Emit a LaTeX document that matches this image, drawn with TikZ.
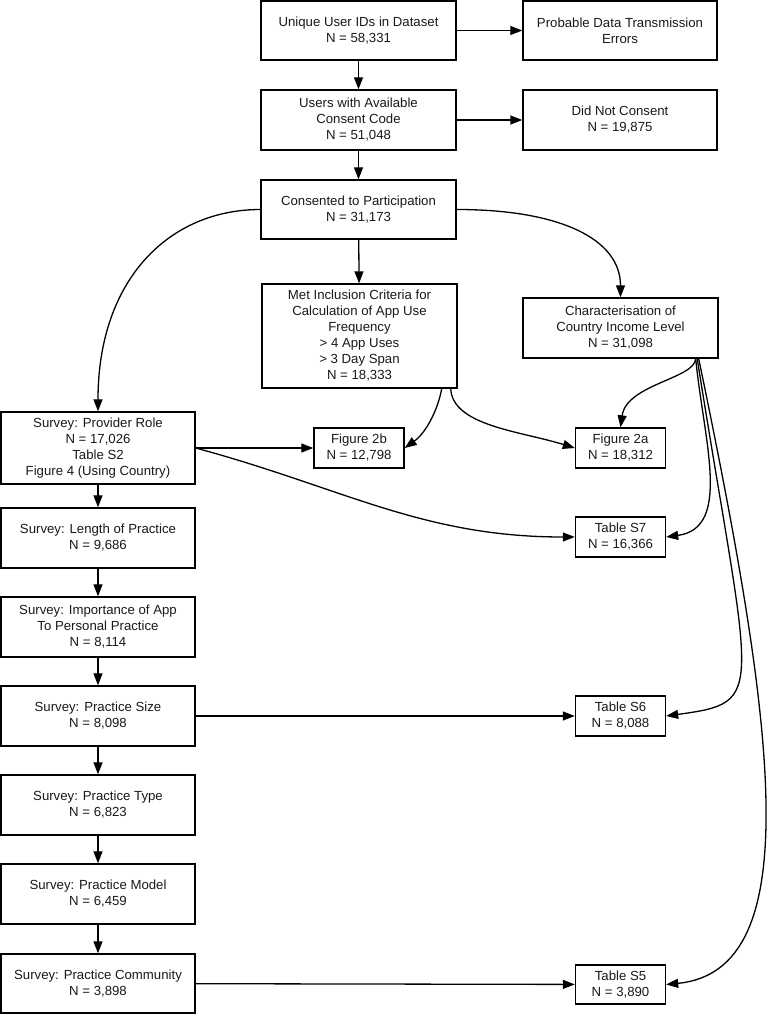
\documentclass[tikz,border=0pt]{standalone}
\usepackage{fontspec}
\setmainfont{Liberation Sans}
\usetikzlibrary{arrows.meta,calc}
\begin{document}
\begin{tikzpicture}[x=1pt,y=-1pt,
  box/.style={draw=black, line width=1.4pt, rectangle, inner sep=0pt, align=center,
    font=\fontsize{13.2}{16}\selectfont, text=black!90},
  big/.style={box, minimum width=195pt},
  small/.style={box, minimum width=90pt, minimum height=40pt},
  conn/.style={line width=1.3pt, -{Triangle[length=12pt,width=9pt]}}]
\useasboundingbox (0,0) rectangle (767,1015);
% top chain
\node[big, minimum height=59pt] (A) at (358.5,30.5) {Unique User IDs in Dataset\\N = 58,331};
\node[big, minimum width=194pt, minimum height=59pt] (B) at (620,30.5) {Probable Data Transmission\\Errors};
\node[big, minimum height=60pt] (C) at (358.5,120) {Users with Available\\Consent Code\\N = 51,048};
\node[big, minimum width=194pt, minimum height=60pt] (D) at (620,120) {Did Not Consent\\N = 19,875};
\node[big, minimum height=59pt] (E) at (358.5,209.5) {Consented to Participation\\N = 31,173};
\node[big, minimum height=104pt] (F) at (359.5,336) {Met Inclusion Criteria for\\Calculation of App Use\\Frequency\\> 4 App Uses\\> 3 Day Span\\N = 18,333};
\node[big, minimum height=60pt] (G) at (620.5,328) {Characterisation of\\Country Income Level\\N = 31,098};
% survey column
\node[big, minimum width=194pt, minimum height=72pt] (H) at (98,448) {Survey: Provider Role\\N = 17,026\\Table S2\\Figure 4 (Using Country)};
\node[big, minimum width=194pt, minimum height=60pt] (L) at (98,538) {Survey: Length of Practice\\N = 9,686};
\node[big, minimum width=194pt, minimum height=60pt] (I) at (98,627) {Survey: Importance of App\\To Personal Practice\\N = 8,114};
\node[big, minimum width=194pt, minimum height=60pt] (PS) at (98,716) {Survey: Practice Size\\N = 8,098};
\node[big, minimum width=194pt, minimum height=60pt] (PT) at (98,805) {Survey: Practice Type\\N = 6,823};
\node[big, minimum width=194pt, minimum height=60pt] (PM) at (98,894) {Survey: Practice Model\\N = 6,459};
\node[big, minimum width=194pt, minimum height=59pt] (PC) at (98,983.5) {Survey: Practice Community\\N = 3,898};
% outputs
\node[small] (F2b) at (359,448) {Figure 2b\\N = 12,798};
\node[small] (F2a) at (620.5,448) {Figure 2a\\N = 18,312};
\node[small] (S7) at (620.5,537) {Table S7\\N = 16,366};
\node[small] (S6) at (620.5,716) {Table S6\\N = 8,088};
\node[small, minimum height=39pt] (S5) at (620.5,984.5) {Table S5\\N = 3,890};
% coordinates on borders
\coordinate (Fa) at ($(F.south east)+(-16,0)$);
\coordinate (Fb) at ($(F.south east)+(-7,0)$);
\coordinate (G1) at ($(G.south east)+(-23,0)$);
\coordinate (G2) at ($(G.south east)+(-21.5,0)$);
\coordinate (G3) at ($(G.south east)+(-20,0)$);
% straight connectors
\draw[conn] (A) -- (B);
\draw[conn] (C) -- (D);
\draw[conn] (A) -- (C);
\draw[conn] (C) -- (E);
\draw[conn] (E) -- (F);
\draw[conn] (H) -- (F2b);
\draw[conn] (H) -- (L);
\draw[conn] (L) -- (I);
\draw[conn] (I) -- (PS);
\draw[conn] (PS) -- (PT);
\draw[conn] (PT) -- (PM);
\draw[conn] (PM) -- (PC);
\draw[conn] (PS) -- (S6);
\draw[conn] (PC) -- (S5);
% curved connectors
\draw[conn] (E.west) .. controls +(-91,0) and +(0,-132) .. (H.north);
\draw[conn] (E.east) .. controls +(104,0) and +(0,-58) .. (G.north);
\draw[conn] (Fa) .. controls +(-4,22) and +(21,-15) .. (F2b.east);
\draw[conn] (Fb) .. controls +(2,37) and +(-55,-17) .. (F2a.west);
\draw[conn] (H.east) .. controls +(148,40) and +(-153,0) .. (S7.west);
\draw[conn] (G1) .. controls +(-1,20) and +(6,-43) .. (F2a.north);
\draw[conn] (G1) .. controls +(8,82) and +(66,-9) .. (S7.east);
\draw[conn] (G2) .. controls +(54,340) and +(102,-14) .. (S6.east);
\draw[conn] (G3) .. controls +(77,370) and +(142,-14) .. (S5.east);
\end{tikzpicture}
\end{document}
